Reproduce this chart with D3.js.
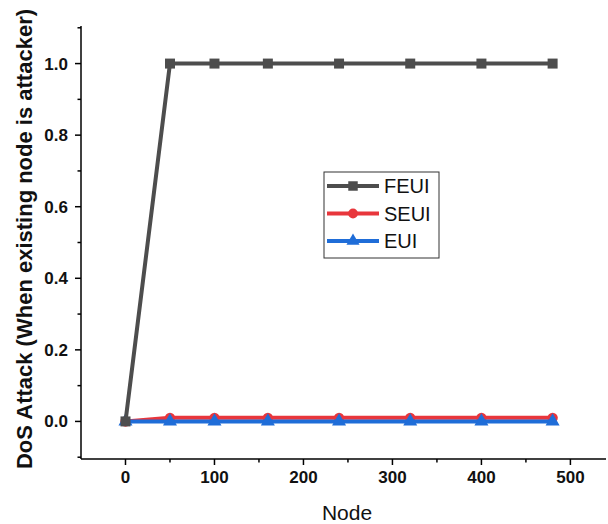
<!DOCTYPE html>
<html>
<head>
<meta charset="utf-8">
<script src="https://cdn.jsdelivr.net/npm/d3@7"></script>
<style>
  html, body { margin: 0; padding: 0; background: #fff; }
  svg { display: block; font-family: Arial, "Liberation Sans", sans-serif; }
</style>
</head>
<body>
<svg id="chart" width="608" height="524"></svg>
<script>
// Node counts on the x axis
const nodes = [0, 50, 100, 160, 240, 320, 400, 480];
// DoS attack values per scheme
const feui = [0, 1, 1, 1, 1, 1, 1, 1];
const seui = [0, 0.01, 0.01, 0.01, 0.01, 0.01, 0.01, 0.01];
const eui  = [0, 0, 0, 0, 0, 0, 0, 0];
const seriesNames = ["FEUI", "SEUI", "EUI"];
const xTicks = [0, 100, 200, 300, 400, 500];
const yTicks = [0.0, 0.2, 0.4, 0.6, 0.8, 1.0];

const series = [
  { name: seriesNames[0], values: feui, color: "#4d4d4d", symbol: d3.symbolSquare },
  { name: seriesNames[1], values: seui, color: "#e8363c", symbol: d3.symbolCircle },
  { name: seriesNames[2], values: eui,  color: "#1f6dd8", symbol: d3.symbolTriangle }
];

const svg = d3.select("#chart");
const x = d3.scaleLinear().domain([-50, 540]).range([81, 606]);
const y = d3.scaleLinear().domain([-0.105, 1.105]).range([459, 26]);

// Axes with major and minor ticks
const axisColor = "#000";
const xAxis = svg.append("g").attr("transform", "translate(0,459)");
xAxis.append("line").attr("x1", 81).attr("x2", 606).attr("stroke", axisColor).attr("stroke-width", 1.5);
const xMinor = [50, 150, 250, 350, 450];
xAxis.selectAll(".xmaj").data(xTicks).join("line")
  .attr("x1", d => x(d)).attr("x2", d => x(d)).attr("y1", 0).attr("y2", 6)
  .attr("stroke", axisColor).attr("stroke-width", 1.5);
xAxis.selectAll(".xmin").data(xMinor).join("line")
  .attr("x1", d => x(d)).attr("x2", d => x(d)).attr("y1", 0).attr("y2", 3.5)
  .attr("stroke", axisColor).attr("stroke-width", 1.5);
xAxis.selectAll("text").data(xTicks).join("text")
  .attr("x", d => x(d)).attr("y", 24).attr("text-anchor", "middle")
  .attr("font-size", 17).attr("font-weight", "bold").attr("fill", "#111")
  .text(d => d3.format("d")(d));

const yAxis = svg.append("g").attr("transform", "translate(81,0)");
yAxis.append("line").attr("y1", 26).attr("y2", 459).attr("stroke", axisColor).attr("stroke-width", 1.5);
const yMinor = [-0.1, 0.1, 0.3, 0.5, 0.7, 0.9, 1.1];
yAxis.selectAll(".ymaj").data(yTicks).join("line")
  .attr("y1", d => y(d)).attr("y2", d => y(d)).attr("x1", 0).attr("x2", -6)
  .attr("stroke", axisColor).attr("stroke-width", 1.5);
yAxis.selectAll(".ymin").data(yMinor).join("line")
  .attr("y1", d => y(d)).attr("y2", d => y(d)).attr("x1", 0).attr("x2", -3.5)
  .attr("stroke", axisColor).attr("stroke-width", 1.5);
yAxis.selectAll("text").data(yTicks).join("text")
  .attr("x", -13).attr("y", d => y(d) + 6).attr("text-anchor", "end")
  .attr("font-size", 17).attr("font-weight", "bold").attr("fill", "#111")
  .text(d => d3.format(".1f")(d));

// Axis titles
svg.append("text").attr("x", 347).attr("y", 520).attr("text-anchor", "middle")
  .attr("font-size", 21).attr("fill", "#111").text("Node");
svg.append("text").attr("transform", "translate(32,239) rotate(-90)")
  .attr("text-anchor", "middle").attr("font-size", 22).attr("font-weight", "bold")
  .attr("fill", "#111").text("DoS Attack (When existing node is attacker)");

// Series lines and markers (drawn back to front so FEUI sits on top at x=0)
const line = d3.line().x((d, i) => x(nodes[i])).y(d => y(d));
const order = [series[1], series[2], series[0]];
order.forEach(s => {
  const g = svg.append("g");
  g.append("path").datum(s.values).attr("d", line)
    .attr("fill", "none").attr("stroke", s.color).attr("stroke-width", 4)
    .attr("stroke-linejoin", "round");
  g.selectAll("path.m").data(s.values).join("path").attr("class", "m")
    .attr("transform", (d, i) => `translate(${x(nodes[i])},${y(d)})`)
    .attr("d", d3.symbol().type(s.symbol).size(s.symbol === d3.symbolSquare ? 100 : 85))
    .attr("fill", s.color);
});

// Legend
const legend = svg.append("g").attr("transform", "translate(324,172)");
legend.append("rect").attr("width", 115).attr("height", 86)
  .attr("fill", "#fff").attr("stroke", "#333").attr("stroke-width", 1);
series.forEach((s, i) => {
  const cy = 14 + i * 27.5;
  legend.append("line").attr("x1", 3).attr("x2", 55).attr("y1", cy).attr("y2", cy)
    .attr("stroke", s.color).attr("stroke-width", 4);
  legend.append("path").attr("transform", `translate(29,${cy})`)
    .attr("d", d3.symbol().type(s.symbol).size(s.symbol === d3.symbolSquare ? 90 : 75))
    .attr("fill", s.color);
  legend.append("text").attr("x", 60).attr("y", cy + 7)
    .attr("font-size", 20).attr("fill", "#111").text(s.name);
});
</script>
</body>
</html>
